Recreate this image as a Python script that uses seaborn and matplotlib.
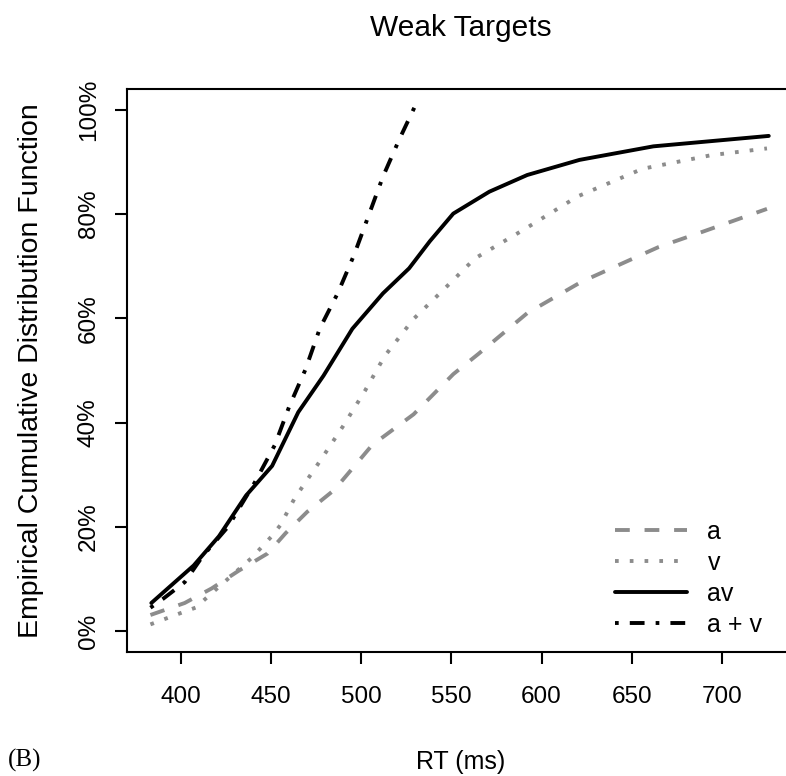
import matplotlib
matplotlib.use("Agg")
import matplotlib.pyplot as plt
import seaborn as sns

# RT (ms) and empirical CDF (%)
rt_a = [383, 402, 417, 432, 448, 458, 470, 485, 506, 529, 551, 565, 592, 622, 665, 690, 725]
ecdf_a = [3.1, 5.4, 8.2, 11.6, 14.9, 18.8, 22.9, 27.1, 35.7, 41.6, 49.3, 53.2, 61.0, 67.0, 73.7, 76.7, 81.0]

rt_v = [383, 400, 408, 420, 439, 450, 455, 463, 477, 490, 502, 513, 529, 545, 563, 590, 620, 656, 694, 725]
ecdf_v = [1.3, 3.5, 4.5, 8.2, 14.0, 18.1, 20.3, 25.5, 32.6, 39.4, 46.1, 52.8, 59.9, 65.3, 71.5, 77.0, 83.4, 88.7, 91.3, 92.6]

rt_av = [383.5, 407, 421, 436, 450.5, 465, 479, 495, 504, 512, 526.5, 538, 551, 571, 592, 621, 662, 726]
ecdf_av = [5.4, 12.6, 18.2, 26.0, 31.7, 42.0, 49.0, 58.0, 61.6, 64.8, 69.6, 74.8, 80.1, 84.3, 87.5, 90.4, 93.0, 95.0]

rt_sum = [383, 390, 402, 412, 426, 441, 452, 460, 469, 477, 487, 496, 504, 512, 521, 531]
ecdf_sum = [4.5, 6.2, 9.4, 14.4, 20.0, 28.6, 35.7, 43.1, 50.2, 58.1, 64.9, 72.2, 79.7, 87.2, 94.3, 101.6]

labels = ["a", "v", "av", "a + v"]
x_ticks = [400, 450, 500, 550, 600, 650, 700]
y_ticks = [0, 20, 40, 60, 80, 100]

sns.set_style("ticks")
plt.rcParams["font.family"] = ["Liberation Sans", "DejaVu Sans"]
plt.rcParams["text.color"] = "black"
plt.rcParams["axes.labelcolor"] = "black"
plt.rcParams["xtick.color"] = "black"
plt.rcParams["ytick.color"] = "black"

fig = plt.figure(figsize=(7.86, 7.76), dpi=100)
# axes run past the right edge like the cropped original
ax = fig.add_axes([127 / 786, 1 - 652 / 776, 667 / 786, 563 / 776])

gray = "#8c8c8c"
series = [
    (rt_a, ecdf_a, gray, (3.8, 3.8)),
    (rt_v, ecdf_v, gray, (0.95, 2.85)),
    (rt_av, ecdf_av, "black", None),
    (rt_sum, ecdf_sum, "black", (0.95, 2.85, 3.8, 2.85)),
]
lines = []
for x, y, col, dash in series:
    sns.lineplot(x=x, y=y, color=col, linewidth=2.8, ax=ax, legend=False)
    ln = ax.lines[-1]
    if dash is not None:
        ln.set_dashes(dash)
    lines.append(ln)

ax.set_xlim(370, 740)
ax.set_ylim(-4, 104)
ax.set_xticks(x_ticks)
ax.set_xticklabels([str(t) for t in x_ticks])
ax.set_yticks(y_ticks)
ax.set_yticklabels([f"{t}%" for t in y_ticks], rotation=90, va="center")

for s in ax.spines.values():
    s.set_visible(True)
    s.set_linewidth(1.5)
    s.set_color("black")
ax.tick_params(direction="out", length=8.6, width=1.5, labelsize=17.5,
               color="black", labelcolor="black")
ax.tick_params(axis="x", pad=16)
ax.tick_params(axis="y", pad=11)

ax.set_xlabel("RT (ms)", fontsize=18, labelpad=30)
ax.set_ylabel("Empirical Cumulative Distribution Function", fontsize=20.5, labelpad=24)
ax.set_title("Weak Targets", fontsize=21.5, pad=38)

ax.legend(lines, labels, loc="center left", bbox_to_anchor=(0.7316, 0.131),
          frameon=False, fontsize=18, handlelength=2.9, handletextpad=0.8,
          labelspacing=0.28, borderpad=0, borderaxespad=0)

fig.text(8 / 786, 1 - 760 / 776, "(B)", fontsize=18, family="Liberation Serif",
         ha="left", va="center")

fig.savefig("out.png", dpi=100)
